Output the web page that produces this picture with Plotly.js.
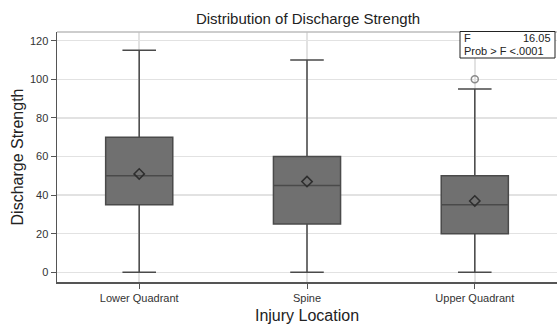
<!DOCTYPE html>
<html><head><meta charset="utf-8">
<script src="https://cdn.plot.ly/plotly-3.0.1.min.js"></script>
<style>html,body{margin:0;padding:0;background:#fff;}</style>
</head><body>
<div id="chart" style="width:557px;height:324px;"></div>
<script>
const categories = ["Lower Quadrant", "Spine", "Upper Quadrant"];
const lowerWhisker = [0, 0, 0];
const q1Values = [35, 25, 20];
const medianValues = [50, 45, 35];
const q3Values = [70, 60, 50];
const upperWhisker = [115, 110, 95];
const meanValues = [51, 47, 37];
const outlierCategories = ["Upper Quadrant"];
const outlierValues = [100];
const yTicks = [0, 20, 40, 60, 80, 100, 120];

const font = "Liberation Sans, Arial, Helvetica, sans-serif";

const traces = [
  {
    type: "box",
    x: categories,
    q1: q1Values,
    median: medianValues,
    q3: q3Values,
    lowerfence: lowerWhisker,
    upperfence: upperWhisker,
    boxpoints: false,
    width: 0.4,
    whiskerwidth: 0.5,
    fillcolor: "#707070",
    line: {color: "#4a4a4a", width: 1.5},
    hoverinfo: "skip",
    showlegend: false
  },
  {
    type: "scatter",
    mode: "markers",
    x: categories,
    y: meanValues,
    marker: {symbol: "diamond-open", size: 8, color: "#2e2e2e", line: {width: 1.5, color: "#2e2e2e"}},
    showlegend: false
  },
  {
    type: "scatter",
    mode: "markers",
    x: outlierCategories,
    y: outlierValues,
    marker: {symbol: "circle-open", size: 7, color: "#8a8a8a", line: {width: 1.5, color: "#8a8a8a"}},
    showlegend: false
  }
];

const layout = {
  width: 557, height: 324,
  margin: {l: 57, r: 0, t: 32, b: 42, pad: 0},
  paper_bgcolor: "#fff", plot_bgcolor: "#fff",
  font: {family: font, color: "#222"},
  title: {text: "Distribution of Discharge Strength", font: {size: 15, color: "#222", family: font},
          x: 0.553, xanchor: "center", y: 0.943, yanchor: "middle"},
  xaxis: {
    type: "category", range: [-0.49, 2.49],
    showgrid: true, gridcolor: "#e2e2e2", gridwidth: 1.5,
    showline: true, linecolor: "#555", linewidth: 1.5,
    ticks: "outside", ticklen: 5, tickcolor: "#555", tickwidth: 1,
    tickfont: {size: 11, color: "#333", family: font},
    zeroline: false,
    title: {text: "Injury Location", font: {size: 16, color: "#222", family: font}, standoff: 8}
  },
  yaxis: {
    range: [-5, 124.5],
    tickvals: yTicks, ticktext: yTicks.map(String),
    showgrid: true, gridcolor: "#e2e2e2", gridwidth: 1.5,
    showline: true, linecolor: "#555", linewidth: 1.5,
    ticks: "outside", ticklen: 5, tickcolor: "#555", tickwidth: 1,
    tickfont: {size: 11, color: "#333", family: font},
    zeroline: false,
    title: {text: "Discharge Strength", font: {size: 16, color: "#222", family: font}, standoff: 2}
  },
  shapes: [
    {type: "line", xref: "paper", yref: "paper", x0: 0, x1: 1, y0: 1, y1: 1, line: {color: "#bdbdbd", width: 1.5}},
    {type: "rect", xref: "paper", yref: "paper", x0: 0.806, x1: 0.996, y0: 0.896, y1: 1.002, fillcolor: "#fff", line: {color: "#222", width: 1}}
  ],
  annotations: [
    {xref: "paper", yref: "paper", x: 0.812, y: 0.976, xanchor: "left", yanchor: "middle", text: "F", showarrow: false, borderpad: 0, font: {size: 11, color: "#222", family: font}},
    {xref: "paper", yref: "paper", x: 0.99, y: 0.978, xanchor: "right", yanchor: "middle", text: "16.05", showarrow: false, borderpad: 0, font: {size: 11, color: "#222", family: font}},
    {xref: "paper", yref: "paper", x: 0.812, y: 0.922, xanchor: "left", yanchor: "middle", text: "Prob > F <.0001", showarrow: false, borderpad: 0, font: {size: 11, color: "#222", family: font}}
  ]
};

Plotly.newPlot("chart", traces, layout, {displayModeBar: false, staticPlot: true});
</script>
</body></html>
